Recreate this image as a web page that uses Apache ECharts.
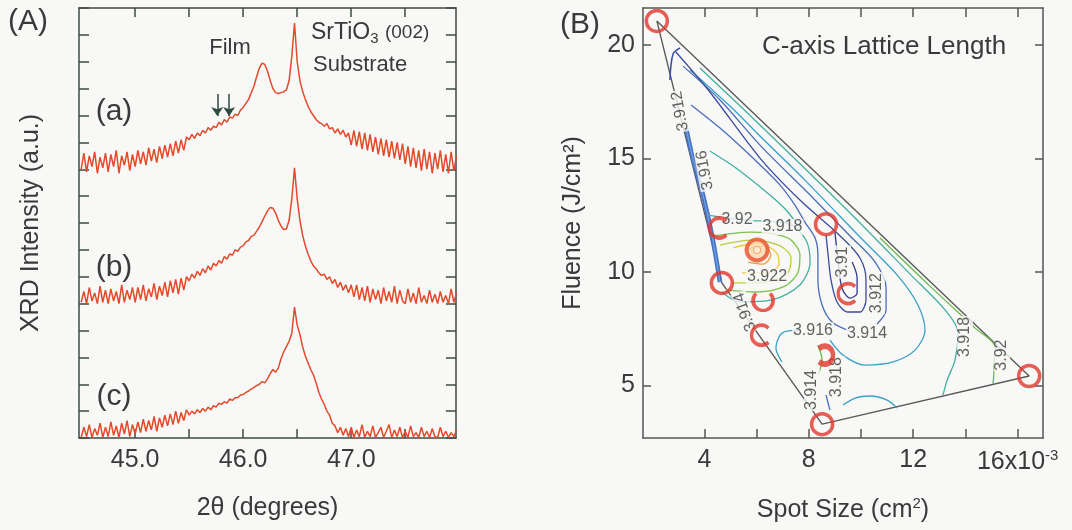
<!DOCTYPE html>
<html><head><meta charset="utf-8">
<script src="https://cdn.jsdelivr.net/npm/echarts@6/dist/echarts.min.js"></script>
<style>html,body{margin:0;padding:0;background:#f8f8f6}#c{width:1072px;height:530px}</style>
</head><body><div id="c"></div>
<script>
// ---------- Panel A data: XRD scans (2theta grid, offset intensities in a.u.) ----------
const twoTheta = Array.from({length:140}, (_, i) => +(44.5 + 0.025 * i).toFixed(3));
const intensityA = [
 10.0,10.6,9.9,10.5,10.1,10.65,9.85,10.45,10.05,10.6,9.9,10.55,10.1,10.7,9.85,10.5,10.15,10.65,9.95,10.55,
 10.1,10.7,10.2,10.65,10.15,10.8,10.3,10.75,10.25,10.85,10.4,10.9,10.45,10.95,10.5,11.05,10.6,11.1,10.7,11.2,
 11.1,11.3,11.15,11.35,11.25,11.45,11.35,11.55,11.45,11.6,11.55,11.75,11.65,11.85,11.75,11.95,11.9,12.05,12.0,12.2,
 12.3,12.45,12.6,12.85,13.1,13.45,13.77,13.95,13.9,13.65,13.3,13.0,12.85,12.82,12.85,12.88,12.95,13.3,14.2,15.44,
 14.0,13.3,12.9,12.6,12.35,12.15,12.0,11.85,11.75,11.7,11.6,11.7,11.5,11.55,11.35,11.5,11.3,11.45,11.2,11.35,
 10.9,11.45,10.85,11.4,10.75,11.35,10.7,11.3,10.65,11.2,10.55,11.15,10.5,11.1,10.45,11.05,10.4,11.0,10.35,10.95,
 10.2,10.85,10.1,10.8,10.05,10.7,9.95,10.75,10.0,10.65,9.85,10.6,10.0,10.7,9.9,10.55,9.85,10.65,9.95,10.5];
const intensityB = [
 5.05,5.45,5.0,5.6,5.1,5.4,5.0,5.65,5.05,5.5,5.0,5.55,5.1,5.45,5.0,5.7,5.05,5.5,5.15,5.6,
 5.05,5.6,5.15,5.7,5.1,5.55,5.25,5.75,5.15,5.65,5.3,5.8,5.25,5.85,5.4,5.9,5.35,5.95,5.5,6.0,
 5.85,6.1,5.95,6.2,6.05,6.3,6.15,6.4,6.25,6.5,6.4,6.6,6.5,6.75,6.65,6.85,6.8,7.0,6.95,7.1,
 7.15,7.3,7.35,7.5,7.55,7.7,7.85,8.05,8.26,8.45,8.58,8.55,8.37,8.1,7.89,7.76,7.78,8.1,8.9,10.05,
 8.9,8.1,7.55,7.15,6.85,6.6,6.4,6.3,6.15,6.05,6.1,5.9,6.0,5.75,5.9,5.6,5.8,5.5,5.7,5.4,
 5.7,5.25,5.7,5.15,5.6,5.1,5.65,5.05,5.55,5.15,5.5,5.0,5.6,5.1,5.45,5.05,5.65,5.0,5.5,5.1,
 5.0,5.55,5.05,5.4,5.0,5.6,5.05,5.3,5.0,5.5,5.05,5.35,5.0,5.45,5.05,5.3,5.0,5.55,5.05,5.4];
const intensityC = [
 0.02,0.4,0.05,0.5,0.02,0.35,0.1,0.55,0.02,0.4,0.05,0.6,0.1,0.45,0.02,0.55,0.15,0.65,0.05,0.5,
 0.15,0.6,0.2,0.7,0.25,0.65,0.3,0.8,0.25,0.75,0.4,0.85,0.45,0.9,0.5,1.0,0.55,0.95,0.65,1.05,
 0.85,1.0,0.9,1.05,0.95,1.1,1.0,1.15,1.05,1.2,1.15,1.3,1.25,1.35,1.3,1.45,1.4,1.5,1.5,1.6,
 1.62,1.7,1.75,1.82,1.88,1.95,2.0,2.1,2.05,2.2,2.4,2.55,2.45,2.6,2.95,3.2,3.4,3.6,3.9,4.87,
 4.2,3.85,3.4,3.05,2.8,2.55,2.35,2.05,1.7,1.45,1.25,1.0,0.85,0.55,0.45,0.2,0.4,0.1,0.35,0.05,
 0.4,0.02,0.3,0.05,0.5,0.02,0.25,0.05,0.45,0.02,0.2,0.4,0.02,0.25,0.5,0.02,0.3,0.05,0.4,0.02,
 0.25,0.02,0.45,0.05,0.2,0.02,0.4,0.05,0.25,0.02,0.35,0.05,0.02,0.4,0.05,0.25,0.02,0.2,0.05,0.3];
const arrowTheta = [45.76, 45.87];
const xTicksA = [45, 45.5, 46, 46.5, 47, 47.5];
const xLabelsA = [45, 46, 47];

// ---------- Panel B data: spot size (x10^-3 cm^2) vs fluence (J/cm^2) ----------
const xTicksB = [4, 6, 8, 10, 12, 14, 16];
const xLabelsB = [4, 8, 12, 16];
const yTicksB = [5, 10, 15, 20];
const samplePoints = [[2.18,21.06],[8.66,12.11],[4.67,9.52],[16.44,5.42],[8.51,3.30]];
const peakPoint = [[6.02,10.97]];
const partialU = [[6.25,8.68]];
const partialC = [[6.13,7.22],[9.45,9.05],[4.52,11.94]];
const partialRC = [[8.66,6.34]];
const hull = [[2.18,21.06],[16.44,5.42],[8.51,3.30],[4.67,9.52],[2.18,21.06]];
const c392_edge = [[10.73,11.50],[12.64,9.38],[14.37,7.53],[15.13,6.70],[15.10,5.77],[15.06,5.07]];
const c3918_outer = [[3.83,18.99],[6.13,16.48],[9.39,12.82],[11.88,9.91],[13.22,8.33],[13.72,7.31],[13.60,6.12],[13.30,5.24],[13.14,4.58]];
const c3916_outer = [[3.45,18.90],[4.98,17.31],[6.13,15.99],[7.85,14.05],[9.96,11.54],[11.42,9.82],[12.18,8.55],[12.45,7.44],[12.07,6.56],[11.23,6.04],[10.15,5.90],[9.31,6.34],[8.81,7.00]];
const c3916_lower = [[7.66,7.44],[6.97,7.31],[6.74,6.65],[6.97,6.04]];
const c3914_outer = [[3.18,19.07],[4.60,17.58],[6.13,15.59],[8.05,13.39],[9.58,11.59],[10.54,10.44],[10.96,9.30],[10.96,8.33],[10.61,7.71]];
const c3914_inner = [[9.58,7.40],[8.89,7.80],[8.51,8.55],[8.35,9.65],[8.35,10.75],[8.24,11.50],[7.85,12.20],[7.47,12.95],[6.90,13.83],[5.86,15.02],[4.60,16.34],[3.49,17.36]];
const c3912 = [[2.91,19.69],[4.21,17.93],[6.13,15.02],[7.66,13.17],[9.20,11.59],[9.96,10.62],[10.19,9.65],[10.19,8.77],[9.96,8.24],[9.50,8.24],[9.08,8.68],[8.85,9.65],[8.74,10.75],[8.66,11.63]];
const c391 = [[9.00,11.76],[9.12,10.53],[9.27,9.30],[9.58,8.85],[9.85,9.07],[9.85,9.74],[9.66,10.44]];
const c3918_arm = [[4.21,15.33],[5.21,14.58],[6.51,13.39],[7.13,12.73],[7.66,11.94]];
const c3918_peak = [[4.14,12.51],[5.56,12.29],[7.28,12.11],[7.89,11.41],[8.05,10.44],[7.66,9.43],[6.59,8.77],[5.36,8.68],[4.67,9.12]];
const c392_peak = [[4.37,11.59],[5.75,11.76],[7.20,11.50],[7.66,10.75],[7.59,10.00],[7.09,9.38],[5.94,9.12],[4.83,9.21]];
const c3922_peak = [[4.60,11.19],[5.82,11.41],[6.90,11.15],[7.32,10.62],[7.16,9.91],[6.32,9.56],[5.06,9.52]];
const c3924_peak = [[5.10,11.06],[6.05,11.28],[6.74,10.88],[6.86,10.35],[6.36,9.96],[5.44,9.96]];
const c3926_peak = [[5.67,11.01],[6.25,11.15],[6.55,10.75],[6.25,10.35],[5.67,10.44]];
const c_leftEdge = [[3.30,16.34],[3.56,15.02],[3.95,13.39],[4.29,11.63],[4.60,9.56]];
const c_hook = [[3.07,19.87],[2.80,19.60],[2.68,18.46]];
const c3916_bottom = [[9.31,4.14],[9.77,4.45],[10.34,4.54],[11.00,4.36],[11.38,4.01]];
const c3918_bottom = [[8.35,6.78],[8.51,6.12],[8.35,5.46]];
const c3914_bottom = [[8.66,4.58],[8.81,3.92]];
const contourLabels = [
 ['3.912',3.07,17.09,100],['3.916',4.02,14.49,100],['3.92',5.25,12.33,0],['3.918',6.99,11.98,0],
 ['3.922',6.40,9.82,0],['3.91',9.31,10.44,90],['3.912',10.61,9.07,90],['3.916',8.16,7.44,0],
 ['3.914',10.23,7.31,0],['3.914',5.56,8.24,110],['3.914',8.12,4.80,90],['3.918',9.08,5.37,90],
 ['3.918',13.98,7.14,90],['3.92',15.40,6.34,90]];

// ---------- chart ----------
const FONT = "'Liberation Sans', Arial, sans-serif";
const TXT = '#3a3a3a';
const RED = '#e0362c';
const frameA = {color:'#3f4a46', width:1.5};
const frameB = {color:'#555', width:1.5};
const zip = (xs, ys) => xs.map((x, i) => [x, ys[i]]);

function xAx(grid, pos, min, max, ticks, labels, frame, fmt, name) {
  return {type:'value', gridIndex:grid, position:pos, min, max,
    axisLine:{show:true, onZero:false, lineStyle:frame},
    axisTick:{show:true, inside:true, length:9, customValues:ticks, lineStyle:frame},
    axisLabel:labels ? {show:true, customValues:labels, formatter:fmt, fontSize:25, color:TXT, fontFamily:FONT, margin:10,
      rich:{s:{fontSize:15, fontFamily:FONT, color:TXT, padding:[0,0,14,0]}}} : {show:false},
    splitLine:{show:false},
    name: name || '', nameLocation:'middle', nameGap:58,
    nameTextStyle:{fontSize:25, color:TXT, fontFamily:FONT, rich:{s:{fontSize:15, fontFamily:FONT, color:TXT, padding:[0,0,14,0]}}}};
}
function yAx(grid, pos, min, max, extra, frame, name, gap) {
  return Object.assign({type:'value', gridIndex:grid, position:pos, min, max,
    axisLine:{show:true, onZero:false, lineStyle:frame},
    splitLine:{show:false},
    name: name || '', nameLocation:'middle', nameGap:gap || 30,
    nameTextStyle:{fontSize:25, color:TXT, fontFamily:FONT}}, extra);
}
const tickA = {axisTick:{show:true, inside:true, length:10, lineStyle:frameA}, axisLabel:{show:false}, interval:1};
const tickB = (lab) => ({axisTick:{show:true, inside:true, length:8, customValues:yTicksB, lineStyle:frameB},
  axisLabel: lab ? {show:true, customValues:yTicksB, fontSize:25, color:TXT, fontFamily:FONT, margin:8} : {show:false}});

const series = [];
const xrd = (ys) => ({type:'line', xAxisIndex:0, yAxisIndex:0, data:zip(twoTheta, ys), showSymbol:false, symbol:'none',
  lineStyle:{color:'#e3492b', width:1.5}, silent:true, z:3});
const sa = xrd(intensityA);
sa.markLine = {silent:true, symbol:['none','arrow'], symbolSize:9, animation:false,
  lineStyle:{color:'#2d4a40', width:1.5, type:'solid'}, label:{show:false},
  data: arrowTheta.map(t => [{coord:[t, 12.8]}, {coord:[t, 11.98]}])};
series.push(sa, xrd(intensityB), xrd(intensityC));

const cl = (data, color, width, smooth) => ({type:'line', xAxisIndex:2, yAxisIndex:2, data, showSymbol:false, symbol:'none',
  smooth: smooth === undefined ? 0.3 : smooth, lineStyle:{color, width: width || 1.3}, silent:true, z:3});
series.push(cl(hull, '#5a5a5a', 1.4, false));
series.push(cl(c_leftEdge, '#4a72c8', 4.5), cl(c_leftEdge, '#6aa8dc', 1.2), cl(c_hook, '#3b4b9e', 1.5));
series.push(cl(c392_edge, '#69b84a'), cl(c3918_outer, '#42b0a0'), cl(c3916_outer, '#3aa0c8'), cl(c3916_lower, '#3aa0c8'),
  cl(c3914_outer, '#4a6db8'), cl(c3914_inner, '#4a6db8'), cl(c3912, '#3b4b9e'), cl(c391, '#2f3a8c'),
  cl(c3918_arm, '#42b0a0'), cl(c3918_peak, '#42b0a0'), cl(c392_peak, '#7cc04a'), cl(c3922_peak, '#b5cf3c'),
  cl(c3924_peak, '#ecc93e'), cl(c3926_peak, '#f2993c'),
  cl(c3916_bottom, '#3aa0c8'), cl(c3918_bottom, '#69b84a'), cl(c3914_bottom, '#4a6db8'));

series.push({type:'scatter', xAxisIndex:2, yAxisIndex:2, z:5, silent:true, symbolSize:0,
  data: contourLabels.map(l => ({name:l[0], value:[l[1], l[2]],
    label:{show:true, position:'inside', rotate:l[3], formatter:l[0], fontSize:16, color:TXT, fontFamily:FONT,
      backgroundColor:'#f8f8f6', padding:[0,1]}}))});

const ring = {color:'rgba(0,0,0,0)', borderColor:RED, borderWidth:3.5};
series.push({type:'scatter', xAxisIndex:2, yAxisIndex:2, z:8, silent:true, symbol:'circle', symbolSize:21, itemStyle:ring, data:samplePoints});
series.push({type:'scatter', xAxisIndex:2, yAxisIndex:2, z:8, silent:true, symbol:'circle', symbolSize:21,
  itemStyle:{color:'#f7d9b0', borderColor:'#e8502c', borderWidth:4}, data:peakPoint});
series.push({type:'scatter', xAxisIndex:2, yAxisIndex:2, z:9, silent:true, symbol:'circle', symbolSize:7,
  itemStyle:{color:'#fbeede', borderColor:'#f2a060', borderWidth:1.2}, data:peakPoint});
series.push({type:'scatter', xAxisIndex:2, yAxisIndex:2, z:8, silent:true, symbol:'path://M2.93,2.93A10,10,0,1,0,17.07,2.93',
  symbolSize:[20,17], itemStyle:ring, data:partialU});
series.push({type:'scatter', xAxisIndex:2, yAxisIndex:2, z:8, silent:true, symbol:'path://M17.07,2.93A10,10,0,1,0,17.07,17.07',
  symbolSize:[17,20], itemStyle:ring, data:partialC});
series.push({type:'scatter', xAxisIndex:2, yAxisIndex:2, z:8, silent:true, symbol:'path://M2.93,2.93A10,10,0,1,1,2.93,17.07',
  symbolSize:[14,18], itemStyle:{color:'rgba(0,0,0,0)', borderColor:RED, borderWidth:5}, data:partialRC});

const txt = (x, y, text, size, align, rich) => ({type:'text', x, y, silent:true, z:20,
  style:{text, fontSize:size, fontFamily:FONT, fill:TXT, align: align || 'center', verticalAlign:'middle', rich}});

const option = {
  animation:false,
  backgroundColor:'#f8f8f6',
  grid:[{left:79, top:8, width:377, height:430}, {left:643, top:8, width:400, height:430}],
  xAxis:[
    xAx(0, 'bottom', 44.48, 47.97, xTicksA, xLabelsA, frameA, v => v.toFixed(1), '2θ (degrees)'),
    xAx(0, 'top', 44.48, 47.97, xTicksA, null, frameA),
    xAx(1, 'bottom', 1.65, 16.97, xTicksB, xLabelsB, frameB, v => v === 16 ? '16x10{s|-3}' : String(v), 'Spot Size (cm{s|2})'),
    xAx(1, 'top', 1.65, 16.97, xTicksB, null, frameB)
  ],
  yAxis:[
    yAx(0, 'left', 0, 16, tickA, frameA, 'XRD Intensity (a.u.)', 35),
    yAx(0, 'right', 0, 16, tickA, frameA),
    yAx(1, 'left', 2.69, 21.63, tickB(true), frameB, 'Fluence (J/cm²)', 57),
    yAx(1, 'right', 2.69, 21.63, tickB(false), frameB)
  ],
  series,
  graphic:[
    txt(28, 22, '(A)', 30), txt(580, 25, '(B)', 30),
    txt(114, 112, '(a)', 30), txt(114, 268, '(b)', 30), txt(114, 397, '(c)', 30),
    txt(230, 48, 'Film', 22),
    txt(311, 33, 'SrTiO{sub|3} {sm|(002)}', 23, 'left', {sub:{fontSize:15, fontFamily:FONT, fill:TXT, padding:[12,0,0,0]}, sm:{fontSize:19, fontFamily:FONT, fill:TXT}}),
    txt(313, 65, 'Substrate', 22, 'left'),
    txt(884, 47, 'C-axis Lattice Length', 26)
  ]
};
echarts.init(document.getElementById('c'), null, {renderer:'canvas'}).setOption(option);
</script></body></html>
